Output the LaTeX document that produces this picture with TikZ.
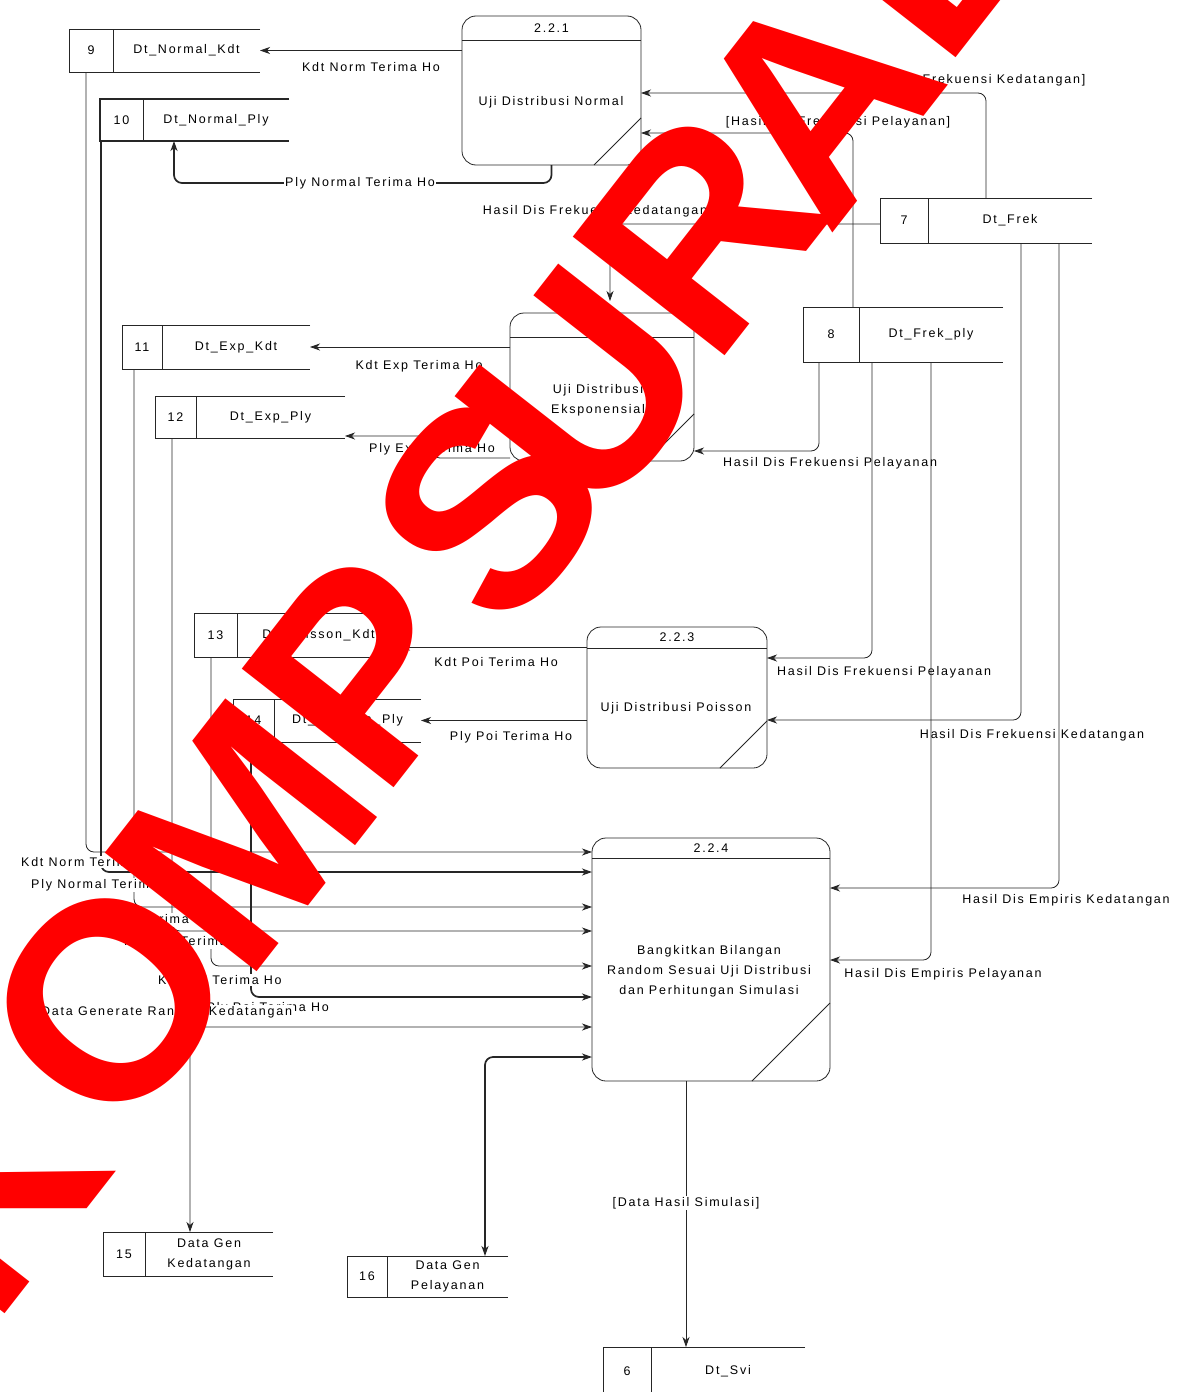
\documentclass[tikz,border=0pt]{standalone}
\usepackage{fontspec}
\setmainfont{Liberation Sans}[LetterSpace=14]
\newfontfamily\markfont{Liberation Sans}[BoldFont=* Bold]
\usetikzlibrary{arrows.meta}
\pgfdeclarelayer{back}
\pgfsetlayers{back,main}

\tikzset{
  every node/.style={font=\fontsize{12.5}{20}\selectfont, inner sep=1pt},
  ln/.style={line width=0.8pt, draw=black!85},
  proc/.style={ln, rounded corners=14pt, fill=white, inner sep=0pt, outer sep=0pt},
  tip/.style={-{Stealth[length=10pt,width=7pt,inset=3pt]}},
  flow/.style={ln, rounded corners=8pt, tip},
  twoway/.style={ln, rounded corners=8pt, {Stealth[length=10pt,width=7pt,inset=3pt]}-{Stealth[length=10pt,width=7pt,inset=3pt]}},
  bold/.style={line width=1.7pt},
  onln/.style={fill=white, inner sep=1pt},
  wm/.style={text=red, font=\markfont\bfseries\fontsize{280}{280}\selectfont, rotate=52, inner sep=0pt},
}

% data store: [style] name, left, top, divider, right, bottom, id, label
\newcommand\dfstore[9][]{%
  \node[inner sep=0pt, outer sep=0pt, minimum width={(#6-#3)*1pt}, minimum height={(#7-#4)*1pt}] (#2) at ({(#3+#6)/2},{(#4+#7)/2}) {};
  \draw[ln,#1] (#2.north east) -- (#2.north west) -- (#2.south west) -- (#2.south east);
  \draw[ln] (#5,#4) -- (#5,#7);
  \node at ({(#3+#5)/2},{(#4+#7)/2}) {#8};
  \node[align=center] at ({(#5+#6)/2},{(#4+#7)/2}) {#9};
}

% process: name, center x, center y, width, height, header, id, diagonal
\newcommand\dfproc[8]{%
  \node[proc, minimum width=#4pt, minimum height=#5pt] (#1) at (#2,#3) {};
  \draw[ln] ([yshift=-#6pt]#1.north west) -- ([yshift=-#6pt]#1.north east);
  \node at ([yshift={-#6pt/2}]#1.north) {#7};
  \draw[ln] ([yshift=#8pt]#1.south east) -- ([xshift=-#8pt]#1.south east);
}

\begin{document}
\begin{tikzpicture}[x=1pt,y=-1pt]
\useasboundingbox (0,0) rectangle (1177,1392);
\clip (0,0) rectangle (1177,1392);
\fill[white] (0,0) rectangle (1177,1392);

% processes
\dfproc{p1}{551.5}{90.5}{179}{149}{24}{2.2.1}{47}
\dfproc{p2}{602}{387}{184}{148}{24}{2.2.2}{47}
\dfproc{p3}{677}{697.5}{180}{141}{21}{2.2.3}{47}
\dfproc{p4}{711}{959.5}{238}{243}{20}{2.2.4}{78}
\node at (551,102) {Uji Distribusi Normal};
\node[align=center] at (598,400) {Uji Distribusi\\Eksponensial};
\node at (676,708) {Uji Distribusi Poisson};
\node[align=center] at (709,971) {Bangkitkan Bilangan\\Random Sesuai Uji Distribusi\\dan Perhitungan Simulasi};

% data stores
\dfstore{s9}{69}{29}{113}{260}{72}{9}{Dt\_Normal\_Kdt}
\dfstore[bold]{s10}{100}{99}{143}{289}{141}{10}{Dt\_Normal\_Ply}
\dfstore{s11}{122}{325}{162}{310}{369}{11}{Dt\_Exp\_Kdt}
\dfstore{s12}{155}{396}{196}{345}{438}{12}{Dt\_Exp\_Ply}
\dfstore{s13}{194}{613}{237}{400}{657}{13}{Dt\_Poisson\_Kdt}
\dfstore{s14}{233}{699}{274}{421}{742}{14}{Dt\_Poisson\_Ply}
\dfstore{s7}{880}{198}{928}{1092}{243}{7}{Dt\_Frek}
\dfstore{s8}{803}{307}{859}{1003}{362}{8}{Dt\_Frek\_ply}
\dfstore{s15}{103}{1232}{145}{273}{1276}{15}{Data Gen\\Kedatangan}
\dfstore{s16}{347}{1256}{387}{508}{1297}{16}{Data Gen\\Pelayanan}
\dfstore{s6}{603}{1347}{651}{805}{1395}{6}{Dt\_Svi}

% flows around 2.2.1
\draw[flow] (p1.west |- s9.east) -- (s9.east);
\node at (371,67) {Kdt Norm Terima Ho};
\draw[flow,bold] (p1.south) |- (174,183) -- (174,0 |- s10.south);
\node[onln] at (360,183) {Ply Normal Terima Ho};
\draw[flow] (986,0 |- s7.north) |- (p1.east |- 0,93);
\node at (968,80) {[Hasil Dis Frekuensi Kedatangan]};
\draw[flow] (853,0 |- s8.north) |- (p1.east |- 0,133);
\node at (838,122) {[Hasil Dis Frekuensi Pelayanan]};

% flows around 2.2.2
\draw[flow, shorten >=12pt] (s7.west |- 0,224) -| (610,0 |- p2.north);
\node at (595,211) {Hasil Dis Frekuensi Kedatangan};
\draw[flow] (p2.west |- s11.east) -- (s11.east);
\node at (419,366) {Kdt Exp Terima Ho};
\draw[flow] (p2.west |- 0,458) -| (432,436) -- ([yshift=2pt]s12.south east);
\node[onln] at (432,449) {Ply Exp Terima Ho};
\draw[flow] (819,0 |- s8.south) |- (p2.east |- 0,451);
\node at (830,463) {Hasil Dis Frekuensi Pelayanan};

% flows around 2.2.3
\draw[flow] (p3.west |- 0,647) -- (s13.east |- 0,647);
\node at (496,662) {Kdt Poi Terima Ho};
\draw[flow] (p3.west |- s14.east) -- (s14.east);
\node at (511,737) {Ply Poi Terima Ho};
\draw[flow] (872,0 |- s8.south) |- (p3.east |- 0,658);
\node at (884,672) {Hasil Dis Frekuensi Pelayanan};
\draw[flow] (1021,0 |- s7.south) |- (p3.east |- 0,720);
\node at (1032,735) {Hasil Dis Frekuensi Kedatangan};

% flows into 2.2.4
\draw[flow] (1059,0 |- s7.south) |- (p4.east |- 0,888);
\node at (1066,900) {Hasil Dis Empiris Kedatangan};
\draw[flow] (931,0 |- s8.south) |- (p4.east |- 0,960);
\node at (943,974) {Hasil Dis Empiris Pelayanan};
\draw[flow] (86,0 |- s9.south) |- (p4.west |- 0,852);
\draw[flow,bold] (101,0 |- s10.south) |- (p4.west |- 0,872);
\draw[flow] (134,0 |- s11.south) |- (p4.west |- 0,907);
\draw[flow] (172,0 |- s12.south) |- (p4.west |- 0,931);
\draw[flow] (211,0 |- s13.south) |- (p4.west |- 0,966);
\draw[flow,bold] (251,0 |- s14.south) |- (p4.west |- 0,997);
\node[onln, anchor=west] at (20,862) {Kdt Norm Terima Ho};
\node[onln, anchor=west] at (30,885) {Ply Normal Terima Ho};
\node[onln, anchor=east] at (213,920) {Kdt Exp Terima Ho};
\node[onln, anchor=east] at (251,942) {Ply Exp Terima Ho};
\node[onln, anchor=west] at (157,980) {Kdt Poi Terima Ho};
\node[onln, anchor=east] at (330,1008) {Ply Poi Terima Ho};

% flows out of 2.2.4
\draw[twoway] (p4.west |- 0,1027) -| (190,0 |- s15.north);
\node[anchor=west, fill=white] at (40,1012) {Data Generate Random Kedatangan};
\draw[twoway,bold] (p4.west |- 0,1057) -| (485,0 |- s16.north);
\begin{pgfonlayer}{back}
\node[anchor=west] at (343,1044) {Data Generate Random Pelayanan};
\end{pgfonlayer}
\draw[flow] (686,0 |- p4.south) -- (686,0 |- s6.north);
\node[onln] at (686,1203) {[Data Hasil Simulasi]};

% watermark lettering
\node[wm] at (-20,1190) {K};
\node[wm] at (110,1000) {O};
\node[wm] at (241,835) {M};
\node[wm] at (364,670) {P};
\node[wm] at (488,508) {S};
\node[wm] at (584,390) {U};
\node[wm] at (700,232) {R};
\node[wm] at (815,100) {A};
\node[wm] at (931,-66) {B};
\end{tikzpicture}
\end{document}
